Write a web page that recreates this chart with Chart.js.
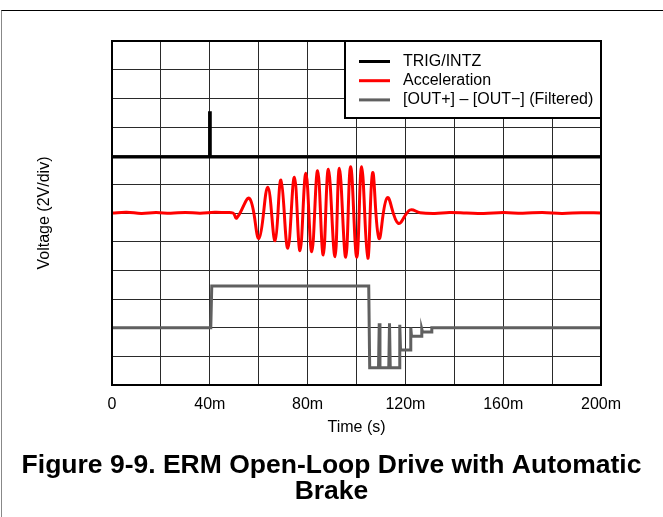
<!DOCTYPE html>
<html>
<head>
<meta charset="utf-8">
<script src="https://cdn.jsdelivr.net/npm/chart.js@4.4.1/dist/chart.umd.min.js"></script>
<style>
  html, body { margin: 0; padding: 0; background: #fff; }
  #wrap { position: relative; width: 663px; height: 517px; overflow: hidden; }
  #wrap canvas { position: absolute; left: 0; top: 0; }
  /* page frame: thin rule on top, grey rule on the left */
  #frame { position: absolute; left: 1px; top: 10px; right: 0; bottom: 0;
           border-top: 1px solid #000; border-left: 1px solid #888; pointer-events: none; }
</style>
</head>
<body>
<div id="wrap">
  <canvas id="chart" width="663" height="517"></canvas>
  <div id="frame"></div>
</div>
<script>
// time in ms, voltage in V (2 V per division, 12 divisions)
const xTickLabels = ['0', '40m', '80m', '120m', '160m', '200m'];
const seriesNames = ['TRIG/INTZ', 'Acceleration', '[OUT+] \u2013 [OUT\u2212] (Filtered)'];
const seriesColors = ['#000000', '#ff0000', '#606060'];
const titleLines = ['Figure 9-9. ERM Open-Loop Drive with Automatic', 'Brake'];

const trigTime = [0, 20, 39.9, 39.9, 40.2, 40.2, 80, 140, 200];
const trigVolt = [15.9, 15.9, 15.9, 19.0, 19.0, 15.9, 15.9, 15.9, 15.9];

const accTime = [0, 6, 12, 18, 24, 30, 36, 42, 46, 49.5, 51.0, 56.2, 60.1, 63.7, 66.7, 69.1, 71.9,
  74.6, 76.9, 79.3, 81.7, 84.1, 86.4, 88.5, 91.2, 93.0, 95.6, 97.6, 100.1, 102.1, 104.6, 106.6,
  109.2, 112.6, 117.1, 121.9, 126, 132, 138, 145, 152, 160, 168, 176, 184, 192, 200];
const accVolt = [12.0, 12.05, 11.97, 12.03, 11.98, 12.04, 11.98, 12.05, 12.03, 12.0, 11.65, 13.02, 10.23, 13.79, 10.07, 14.30, 9.54,
  14.49, 9.37, 14.77, 9.30, 14.95, 9.07, 15.05, 8.95, 15.12, 8.91, 15.23, 8.91, 15.23, 8.84, 14.81,
  10.23, 13.07, 11.28, 12.21, 12.02, 11.97, 12.04, 12.0, 11.96, 12.03, 11.98, 12.04, 11.97, 12.02, 12.0];

const outTime = [0, 40.4, 40.8, 105.0, 105.4, 109.0, 109.3, 109.6, 113.2, 113.5, 113.8, 117.4, 117.7, 118.0,
  122.0, 122.2, 122.5, 126.5, 126.7, 127.0, 130.5, 130.8, 200];
const outVolt = [4.0, 4.0, 6.9, 6.9, 1.2, 1.2, 4.3, 1.2, 1.2, 4.3, 1.2, 1.2, 4.2, 2.45,
  2.45, 4.0, 3.4, 3.4, 3.9, 3.7, 3.7, 4.0, 4.0];

function toPoints(t, v) {
  return t.map((x, i) => ({ x: x, y: v[i] }));
}

Chart.defaults.font.family = '"Liberation Sans", Arial, sans-serif';
Chart.defaults.color = '#000';

// plot frame on all four sides
const framePlugin = {
  id: 'frame',
  afterDraw(chart) {
    const { ctx, chartArea: a } = chart;
    ctx.save();
    ctx.strokeStyle = '#000';
    ctx.lineWidth = 2;
    ctx.strokeRect(a.left, a.top, a.right - a.left, a.bottom - a.top);
    ctx.restore();
  }
};

// legend box in the top right corner of the plot
const boxLegend = {
  id: 'boxLegend',
  afterDraw(chart) {
    const { ctx, chartArea: a } = chart;
    const left = 345, bottom = 118;
    ctx.save();
    ctx.fillStyle = '#fff';
    ctx.fillRect(left, a.top, a.right - left, bottom - a.top);
    ctx.strokeStyle = '#000';
    ctx.lineWidth = 2;
    ctx.strokeRect(left, a.top, a.right - left, bottom - a.top);
    ctx.font = '16px "Liberation Sans", Arial, sans-serif';
    ctx.textBaseline = 'middle';
    ctx.fillStyle = '#000';
    chart.data.datasets.forEach((ds, i) => {
      const y = 61.5 + i * 19.2;
      ctx.strokeStyle = ds.borderColor;
      ctx.lineWidth = 3;
      ctx.beginPath();
      ctx.moveTo(359, y);
      ctx.lineTo(390, y);
      ctx.stroke();
      ctx.fillText(ds.label, 403, y);
    });
    ctx.restore();
  }
};

const datasets = [
  { label: seriesNames[0], data: toPoints(trigTime, trigVolt), borderColor: seriesColors[0], borderWidth: 3, tension: 0 },
  { label: seriesNames[1], data: toPoints(accTime, accVolt), borderColor: seriesColors[1], borderWidth: 3, tension: 0.4 },
  { label: seriesNames[2], data: toPoints(outTime, outVolt), borderColor: seriesColors[2], borderWidth: 3, tension: 0 }
];

new Chart(document.getElementById('chart'), {
  type: 'line',
  data: { datasets: datasets },
  options: {
    responsive: false,
    animation: false,
    devicePixelRatio: 1,
    layout: { padding: { top: 41, right: 0, left: 0, bottom: 0 } },
    elements: { point: { radius: 0 } },
    plugins: {
      legend: { display: false },
      tooltip: { enabled: false },
      title: {
        display: true,
        position: 'bottom',
        text: titleLines,
        color: '#000',
        font: { size: 26.5, weight: 'bold', lineHeight: 1 },
        padding: { top: 14.4, bottom: 12 }
      }
    },
    scales: {
      x: {
        type: 'linear',
        min: 0,
        max: 200,
        ticks: {
          stepSize: 20,
          autoSkip: false,
          maxRotation: 0,
          padding: 10.4,
          font: { size: 16 },
          callback: (v) => (v % 40 === 0 ? xTickLabels[v / 40] : '')
        },
        grid: { color: '#2a2a2a', lineWidth: 1, drawTicks: false },
        border: { display: false },
        title: { display: true, text: 'Time (s)', font: { size: 16 }, padding: { top: -6.6, bottom: 0 } }
      },
      y: {
        min: 0,
        max: 24,
        ticks: { stepSize: 2, display: false },
        grid: { color: '#2a2a2a', lineWidth: 1, drawTicks: false },
        border: { display: false },
        title: { display: true, text: 'Voltage (2V/div)', font: { size: 16 }, padding: { top: 35.4, bottom: 57.4 } },
        afterFit: (s) => { s.width = 112; }
      },
      y2: {
        position: 'right',
        min: 0,
        max: 1,
        ticks: { display: false },
        grid: { display: false, drawTicks: false },
        border: { display: false },
        afterFit: (s) => { s.width = 62; }
      }
    }
  },
  plugins: [framePlugin, boxLegend]
});
</script>
</body>
</html>
